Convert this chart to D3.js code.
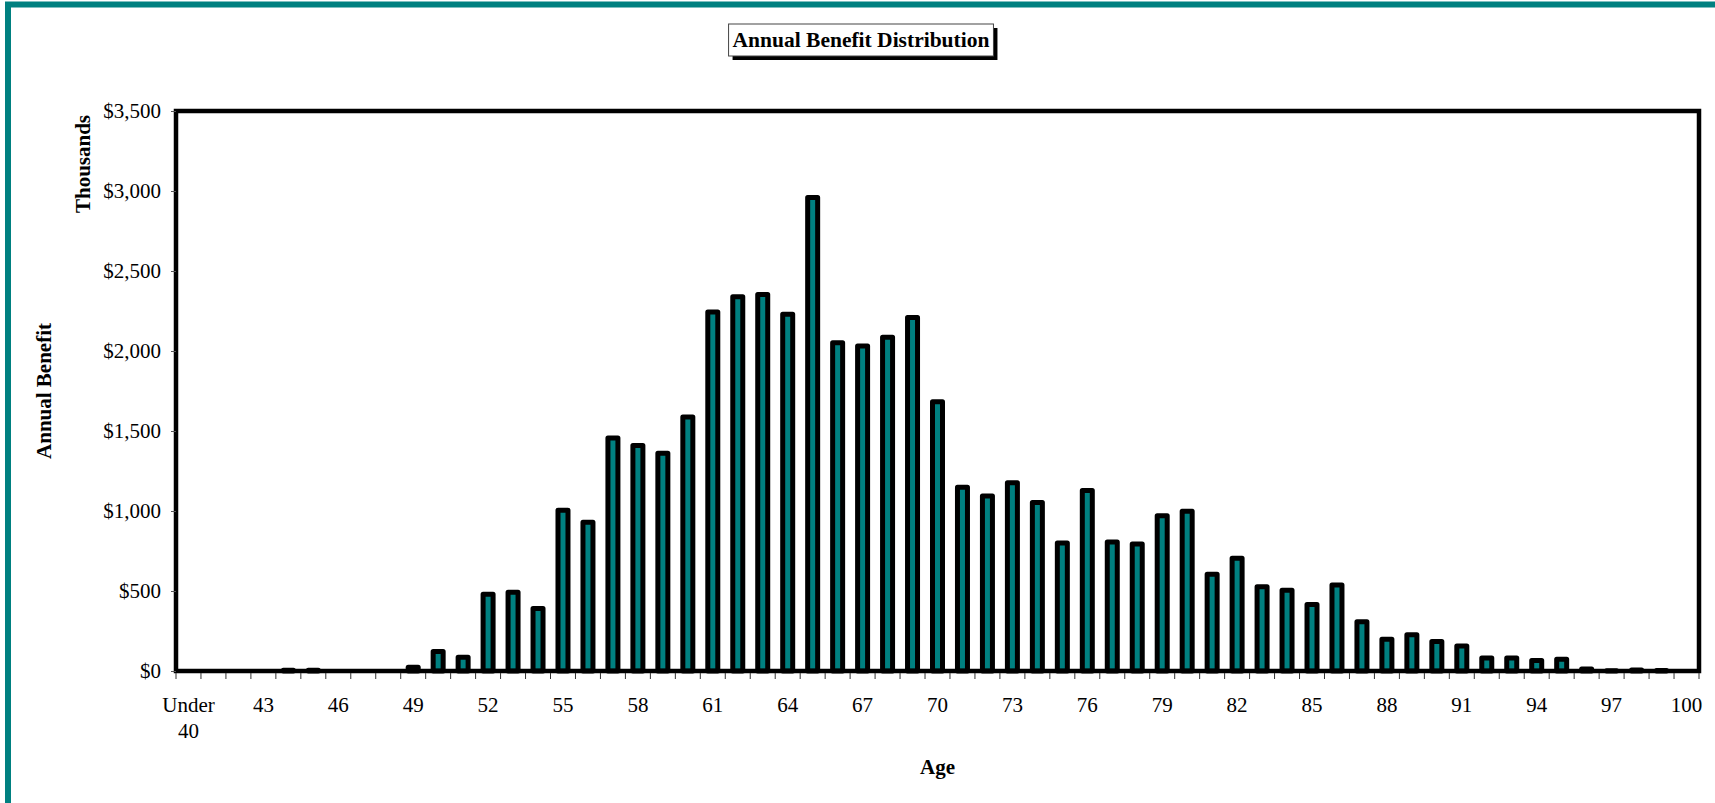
<!DOCTYPE html>
<html>
<head>
<meta charset="utf-8">
<script src="https://cdn.jsdelivr.net/npm/d3@7"></script>
<style>
  html, body { margin: 0; padding: 0; background: #fff; }
  svg { display: block; }
  text { font-family: "Liberation Serif", "Times New Roman", serif; fill: #000; }
</style>
</head>
<body>
<svg id="chart" width="1715" height="803"></svg>
<script>
// Age groups: "Under 40", then single years 41..100
const ages = ["Under 40"].concat(d3.range(41, 101).map(String));

// Annual benefit by age, in thousands of dollars
const benefits = [
  0, 0, 0, 0, 4, 5, 0, 0, 0, 23,        // Under 40, 41-49
  122, 86, 479, 492, 391, 1005, 930, 1457, 1409, 1361, // 50-59
  1587, 2243, 2339, 2353, 2230, 2960, 2052, 2031, 2086, 2209, // 60-69
  1683, 1149, 1094, 1176, 1053, 800, 1128, 807, 793, 971, // 70-79
  999, 605, 704, 527, 504, 415, 538, 308, 198, 226,      // 80-89
  185, 157, 82, 82, 66, 74, 12, 2, 6, 3,                 // 90-99
  0                                                      // 100
];

// Every third age gets a label
const tickLabels = ages.filter((d, i) => i % 3 === 0);
const yTicks = [0, 500, 1000, 1500, 2000, 2500, 3000, 3500];

const titleText = "Annual Benefit Distribution";
const yTitle = "Annual Benefit";
const yUnits = "Thousands";
const xTitle = "Age";

const svg = d3.select("#chart");
const W = 1715, H = 803;
const plot = { left: 176, right: 1699, top: 111, bottom: 671 };

const teal = "#008080";
const labelSize = "21px";

// outer teal frame
svg.append("rect")
  .attr("x", 8).attr("y", 4.5)
  .attr("width", W + 20).attr("height", H + 20)
  .attr("fill", "none")
  .attr("stroke", teal)
  .attr("stroke-width", 6);

const x = d3.scaleBand()
  .domain(ages)
  .range([plot.left, plot.right])
  .paddingInner(0)
  .paddingOuter(0);

const y = d3.scaleLinear()
  .domain([0, 3500])
  .range([plot.bottom, plot.top]);

const barW = 10;

// bars
svg.append("g")
  .selectAll("rect")
  .data(ages.map((a, i) => ({ age: a, v: benefits[i] })).filter(d => d.v > 0))
  .join("rect")
  .attr("x", d => x(d.age) + x.bandwidth() / 2 - barW / 2)
  .attr("y", d => y(d.v))
  .attr("width", barW)
  .attr("height", d => y(0) - y(d.v))
  .attr("fill", teal)
  .attr("stroke", "#000")
  .attr("stroke-width", 5)
  .attr("stroke-linejoin", "round");

// plot frame
svg.append("rect")
  .attr("x", plot.left).attr("y", plot.top)
  .attr("width", plot.right - plot.left)
  .attr("height", plot.bottom - plot.top)
  .attr("fill", "none")
  .attr("stroke", "#000")
  .attr("stroke-width", 4.5);

// y axis
const yAxis = d3.axisLeft(y)
  .tickValues(yTicks)
  .tickFormat(d3.format("$,"))
  .tickSize(5)
  .tickPadding(10);
const gy = svg.append("g")
  .attr("transform", `translate(${plot.left},0)`)
  .call(yAxis);
gy.select(".domain").remove();
gy.selectAll(".tick line").attr("stroke", "#555");
gy.selectAll(".tick text")
  .style("font-family", '"Liberation Serif", "Times New Roman", serif')
  .style("font-size", labelSize)
  .attr("fill", "#000");

// x axis: ticks at category boundaries
const boundaries = ages.map(a => x(a)).concat([plot.right]);
svg.append("g")
  .selectAll("line")
  .data(boundaries)
  .join("line")
  .attr("x1", d => d).attr("x2", d => d)
  .attr("y1", plot.bottom + 2).attr("y2", plot.bottom + 8)
  .attr("stroke", "#333")
  .attr("stroke-width", 1);

const xLab = svg.append("g")
  .selectAll("text")
  .data(tickLabels)
  .join("text")
  .attr("x", d => x(d) + x.bandwidth() / 2)
  .attr("y", plot.bottom + 41)
  .attr("text-anchor", "middle")
  .style("font-size", labelSize);
xLab.each(function(d) {
  const t = d3.select(this);
  d.split(" ").forEach((p, i) => {
    t.append("tspan")
      .attr("x", x(d) + x.bandwidth() / 2)
      .attr("dy", i === 0 ? 0 : 26)
      .text(p);
  });
});

// axis titles
svg.append("text")
  .attr("x", (plot.left + plot.right) / 2)
  .attr("y", 774)
  .attr("text-anchor", "middle")
  .style("font-size", labelSize)
  .style("font-weight", "bold")
  .text(xTitle);

svg.append("text")
  .attr("transform", `translate(51,${(plot.top + plot.bottom) / 2}) rotate(-90)`)
  .attr("text-anchor", "middle")
  .style("font-size", labelSize)
  .style("font-weight", "bold")
  .text(yTitle);

svg.append("text")
  .attr("transform", `translate(90,164) rotate(-90)`)
  .attr("text-anchor", "middle")
  .style("font-size", labelSize)
  .style("font-weight", "bold")
  .text(yUnits);

// chart title in a box with drop shadow
const tg = svg.append("g");
const tt = tg.append("text")
  .attr("x", 861).attr("y", 47)
  .attr("text-anchor", "middle")
  .style("font-size", "21.5px")
  .style("font-weight", "bold")
  .text(titleText);
const bb = tt.node().getBBox();
const pad = 4;
tg.insert("rect", "text")
  .attr("x", bb.x - pad + 4).attr("y", bb.y - pad + 4)
  .attr("width", bb.width + pad * 2).attr("height", bb.height + pad * 2)
  .attr("fill", "#000");
tg.insert("rect", "text")
  .attr("x", bb.x - pad).attr("y", bb.y - pad)
  .attr("width", bb.width + pad * 2).attr("height", bb.height + pad * 2)
  .attr("fill", "#fff")
  .attr("stroke", "#444")
  .attr("stroke-width", 1);
</script>
</body>
</html>
